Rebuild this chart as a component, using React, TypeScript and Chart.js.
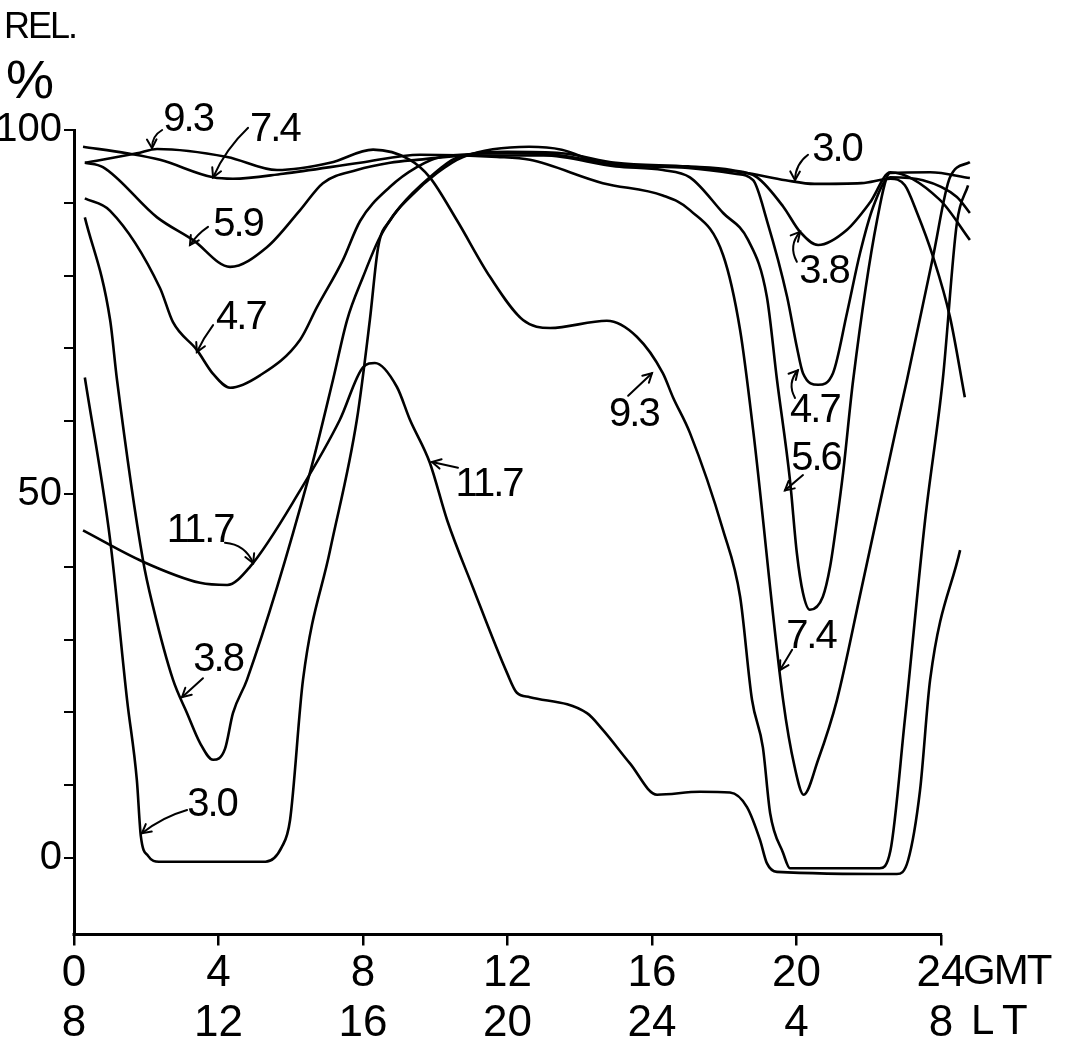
import React, { useEffect, useRef } from 'react';
import { Chart, registerables } from 'chart.js';

Chart.register(...registerables);

// ---- axis ticks ----
const gmtHours = [0, 4, 8, 12, 16, 20, 24];
const gmtLabels = ['0', '4', '8', '12', '16', '20', '24'];
const ltLabels = ['8', '12', '16', '20', '24', '4', '8'];
const yTickValues = [0, 10, 20, 30, 40, 50, 60, 70, 80, 90, 100];
const yLabelled = [0, 50, 100];

// ---- series (hour GMT, relative %) ----
const hours30 = [0.3, 1.0, 1.47, 1.74, 1.85, 2.05, 2.35, 5.3, 5.75, 5.98, 6.34, 7.09, 7.83, 8.19, 8.42, 8.75, 9.3, 10.05, 10.77, 12.6, 13.5, 14.6, 17.0, 18.5, 19.7, 20.5, 21.8, 22.6, 23.0, 23.34, 23.78, 24.25, 24.66];
const rel30 = [66, 43.7, 21.7, 10.7, 3, 0.3, -0.5, -0.5, 1.5, 5.2, 24.5, 42.3, 60.2, 73.9, 83.9, 87.6, 90.8, 94.1, 96.3, 97.7, 97.3, 95.5, 94.9, 94.2, 93.1, 92.6, 92.7, 93.3, 92.4, 88.6, 82.6, 74.3, 63.3];

const hours38 = [0.3, 1.0, 1.19, 1.91, 2.19, 2.74, 3.13, 3.49, 3.85, 4.18, 4.4, 4.79, 6.53, 7.17, 7.56, 8.0, 8.47, 9.02, 9.85, 10.6, 12.0, 13.5, 15.0, 17.0, 18.2, 18.91, 19.63, 20.1, 20.6, 21.4, 22.03, 22.6, 23.97, 24.8];
const rel38 = [88, 73.9, 65.7, 40.9, 34.5, 24.5, 19.9, 15.8, 13.5, 15, 19.9, 24.5, 52.9, 65.7, 73.9, 79.8, 85.3, 89.4, 93.5, 96.2, 97, 96.8, 95.5, 95, 94.5, 93.5, 89.5, 86, 84.2, 86.3, 90, 94.2, 90.4, 84.9];

const hours47 = [0.3, 1.0, 2.38, 2.74, 3.4, 3.85, 4.32, 5.15, 6.26, 6.73, 7.44, 7.92, 8.75, 9.49, 10.15, 12.0, 13.5, 15.0, 17.0, 18.3, 18.8, 19.18, 19.74, 20.01, 20.18, 20.6, 21.01, 21.4, 21.76, 22.12, 22.59, 23.5, 24.44, 24.8];
const rel47 = [90.6, 88.9, 78.3, 73.6, 69.8, 66.5, 64.6, 66.3, 71.2, 75.7, 82.1, 87.5, 92.2, 94.9, 96.3, 96.8, 96.5, 95.2, 94.8, 94, 93.1, 87.6, 77.1, 70.2, 66.6, 65, 66.6, 74.9, 83.1, 89.4, 93.5, 93.1, 90.8, 88.6];

const hours59 = [0.3, 0.8, 2.3, 3.29, 4.32, 5.34, 6.26, 6.89, 7.83, 8.75, 9.49, 11.0, 13.0, 15.0, 16.3, 17.05, 17.97, 18.66, 19.18, 19.46, 19.82, 20.01, 20.18, 20.37, 20.73, 20.93, 21.12, 21.29, 21.57, 22.23, 22.59, 23.7, 24.8];
const rel59 = [95.5, 94.9, 88, 84.9, 81.2, 83.9, 89, 92.7, 94.5, 95.5, 95.9, 96.5, 96.5, 95, 94.5, 93.5, 88.6, 84.9, 77.1, 65.7, 51.9, 41.9, 36.4, 34.1, 35.9, 40, 46.4, 52.9, 65.7, 87.6, 94.1, 94.2, 93.4];

const hours74 = [0.25, 1.47, 2.38, 3.85, 4.4, 5.79, 7.92, 9.58, 11.71, 12.62, 14.64, 16.3, 17.05, 17.97, 18.44, 18.8, 19.63, 19.95, 20.2, 20.6, 21.12, 21.79, 22.75, 23.06, 23.78, 24.25, 24.8];
const rel74 = [97.7, 96.8, 95.9, 93.5, 93.3, 94.0, 95.5, 96.6, 96.3, 95.9, 92.7, 91.0, 89.0, 82.8, 72.5, 58.8, 21.7, 12.5, 8.7, 13.5, 21.7, 36.8, 58.8, 65.7, 82.6, 93.5, 95.6];

const hours93 = [0.3, 1.74, 2.3, 4.24, 5.62, 7.09, 8.28, 9.3, 9.85, 10.6, 11.52, 12.43, 13.18, 14.75, 15.58, 16.3, 16.58, 17.05, 17.97, 18.44, 18.77, 19.07, 19.27, 19.63, 19.82, 22.3, 22.6, 23.0, 23.56, 24.05, 24.44, 24.75];
const rel93 = [95.5, 96.8, 97.4, 96.3, 94.5, 95.5, 97.3, 95.9, 93.5, 87.6, 79.8, 73.9, 72.8, 73.8, 71.6, 66.6, 63.3, 58.4, 45.0, 35.9, 21.7, 15.2, 6.2, 0.7, -1.4, -1.4, 1, 19, 46.4, 65.7, 87.2, 92.4];

const hours117 = [0.25, 1.91, 3.49, 4.24, 4.87, 6.26, 7.36, 8.0, 8.33, 8.94, 9.3, 9.85, 10.33, 11.04, 11.99, 12.26, 12.62, 14.2, 14.64, 15.39, 16.14, 17.33, 18.16, 18.63, 18.99, 19.18, 19.46, 22.78, 23.09, 23.42, 23.7, 24.53];
const rel117 = [45, 40.7, 37.8, 37.5, 40, 50.5, 60.2, 67.4, 68, 64.7, 60.2, 54.3, 46.4, 37.2, 25.4, 22.7, 22.1, 19.9, 17.6, 13, 8.7, 9.1, 9, 7, 2.5, -0.7, -1.9, -2.2, -0.3, 9.3, 24.5, 42.3];

const seriesNames = ['3.0', '3.8', '4.7', '5.9', '7.4', '9.3', '11.7'];
const seriesHours = [hours30, hours38, hours47, hours59, hours74, hours93, hours117];
const seriesRel = [rel30, rel38, rel47, rel59, rel74, rel93, rel117];

// ---- hand-written frequency labels with arrows (data coordinates) ----
const annText = ['9.3', '7.4', '5.9', '4.7', '11.7', '3.8', '3.0', '11.7', '9.3', '3.0', '3.8', '4.7', '5.6', '7.4'];
const annX = [3.16, 5.56, 4.54, 4.62, 3.49, 3.99, 3.82, 11.49, 15.5, 21.12, 20.76, 20.51, 20.54, 20.4];
const annY = [101.4, 100, 87, 74.2, 44.9, 27.2, 7.3, 51.2, 60.9, 97.3, 80.5, 61.4, 54.8, 30.4];
const arrowFromX = [2.44, 4.82, 3.71, 3.85, 4.18, 3.57, 3.13, 10.63, 15.34, 20.32, 20.01, 19.96, 20.18, 19.88];
const arrowFromY = [100, 100.3, 86.7, 73.2, 43.3, 24.7, 6.6, 53.6, 63.5, 96.6, 81.9, 63.2, 52.6, 28.6];
const arrowToX = [2.16, 3.85, 3.21, 3.4, 4.96, 2.99, 1.88, 9.91, 16.0, 19.96, 20.1, 20.04, 19.68, 19.54];
const arrowToY = [97.5, 93.5, 84.2, 69.5, 40.5, 22.1, 3.4, 54.4, 66.6, 93.1, 86, 67, 50.5, 25.8];
const arrowBend = [0.3, 0.1, 0.1, 0.05, -0.3, 0, 0.1, 0, 0, 0.25, -0.35, -0.35, 0, 0];

const FONT = '"Liberation Sans", Arial, sans-serif';
const AXIS_END = 24;

const drawPlugin = {
  id: 'handLabels',
  afterDraw(chart: any) {
    const { ctx, scales, chartArea } = chart;
    const xs = scales.x;
    const ys = scales.y;
    ctx.save();
    // x axis line, drawn only up to the last tick (curves run a little beyond it)
    ctx.strokeStyle = '#000';
    ctx.lineWidth = 3;
    ctx.lineCap = 'butt';
    ctx.beginPath();
    ctx.moveTo(xs.getPixelForValue(0) - 1.5, chartArea.bottom);
    ctx.lineTo(xs.getPixelForValue(AXIS_END) + 1.2, chartArea.bottom);
    ctx.stroke();

    ctx.fillStyle = '#000';
    ctx.lineWidth = 2;
    ctx.lineCap = 'round';
    ctx.textAlign = 'center';
    ctx.textBaseline = 'middle';
    ctx.font = `40px ${FONT}`;
    try { (ctx as any).letterSpacing = '-2px'; } catch (e) {}
    for (let i = 0; i < annText.length; i++) {
      const tx = xs.getPixelForValue(annX[i]);
      const ty = ys.getPixelForValue(annY[i]);
      ctx.fillText(annText[i], tx, ty);
      const x0 = xs.getPixelForValue(arrowFromX[i]);
      const y0 = ys.getPixelForValue(arrowFromY[i]);
      const x1 = xs.getPixelForValue(arrowToX[i]);
      const y1 = ys.getPixelForValue(arrowToY[i]);
      const dx = x1 - x0;
      const dy = y1 - y0;
      const len = Math.hypot(dx, dy) || 1;
      const cx = (x0 + x1) / 2 + (-dy / len) * arrowBend[i] * len;
      const cy = (y0 + y1) / 2 + (dx / len) * arrowBend[i] * len;
      ctx.beginPath();
      ctx.moveTo(x0, y0);
      ctx.quadraticCurveTo(cx, cy, x1, y1);
      ctx.stroke();
      const ang = Math.atan2(y1 - cy, x1 - cx);
      const hl = 10;
      ctx.beginPath();
      ctx.moveTo(x1 - hl * Math.cos(ang - 0.5), y1 - hl * Math.sin(ang - 0.5));
      ctx.lineTo(x1, y1);
      ctx.lineTo(x1 - hl * Math.cos(ang + 0.5), y1 - hl * Math.sin(ang + 0.5));
      ctx.stroke();
    }
    // axis title
    ctx.textAlign = 'left';
    ctx.textBaseline = 'alphabetic';
    ctx.font = `36px ${FONT}`;
    ctx.fillText('REL.', 4, 38);
    ctx.font = `54px ${FONT}`;
    ctx.fillText('%', 6, 98);
    // unit names after the last x tick
    ctx.font = `42px ${FONT}`;
    ctx.textBaseline = 'middle';
    const xe = xs.getPixelForValue(AXIS_END);
    ctx.fillText('GMT', xe + 22, 972);
    ctx.fillText('L T', xe + 30, 1022);
    ctx.restore();
  },
};

export default function App() {
  const ref = useRef<HTMLCanvasElement | null>(null);
  useEffect(() => {
    if (!ref.current) return;
    const datasets = seriesNames.map((name, i) => ({
      label: name,
      data: seriesHours[i].map((h, j) => ({ x: h, y: seriesRel[i][j] })),
      borderColor: '#000',
      borderWidth: 2.6,
      pointRadius: 0,
      fill: false,
      cubicInterpolationMode: 'monotone' as const,
      clip: false as any,
    }));
    const chart = new Chart(ref.current, {
      type: 'line',
      data: { datasets },
      plugins: [drawPlugin],
      options: {
        animation: false,
        responsive: false,
        devicePixelRatio: 1,
        layout: { padding: { left: 0, top: 130, right: 93.9, bottom: 0 } },
        plugins: { legend: { display: false }, tooltip: { enabled: false } },
        scales: {
          x: {
            type: 'linear',
            min: 0,
            max: 25,
            afterBuildTicks: (s: any) => { s.ticks = gmtHours.map((v) => ({ value: v })); },
            afterFit: (s: any) => { s.height = 117.5; },
            border: { display: false },
            grid: { display: true, drawOnChartArea: false, drawTicks: true, tickLength: 11, color: '#000', lineWidth: 2.5 },
            ticks: {
              autoSkip: false,
              maxRotation: 0,
              padding: 4,
              color: '#000',
              font: { family: FONT, size: 44, lineHeight: 1.12 },
              callback: (_v: any, i: number) => [gmtLabels[i], ltLabels[i]],
            },
          },
          y: {
            type: 'linear',
            min: -10.5,
            max: 100,
            afterBuildTicks: (s: any) => { s.ticks = yTickValues.map((v) => ({ value: v })); },
            afterFit: (s: any) => { s.width = 74; },
            border: { display: true, color: '#000', width: 3 },
            grid: { display: true, drawOnChartArea: false, drawTicks: true, tickLength: 10, color: '#000', lineWidth: 2 },
            ticks: {
              padding: 2,
              color: '#000',
              font: { family: FONT, size: 40 },
              callback: (v: any) => (yLabelled.includes(Number(v)) ? String(v) : ''),
            },
          },
        },
      },
    });
    return () => chart.destroy();
  }, []);
  return (
    <div style={{ position: 'fixed', left: 0, top: 0, width: 1071, height: 1052, background: '#fff' }}>
      <canvas ref={ref} width={1071} height={1052} style={{ display: 'block' }} />
    </div>
  );
}
